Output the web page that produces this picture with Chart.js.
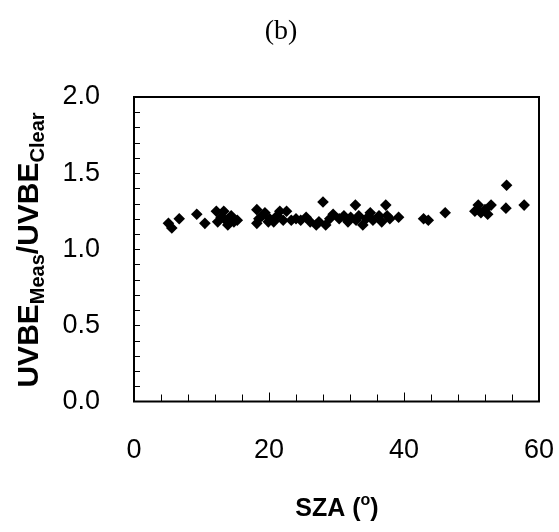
<!DOCTYPE html>
<html>
<head>
<meta charset="utf-8">
<script src="https://cdn.jsdelivr.net/npm/chart.js@4"></script>
<style>
  html, body { margin:0; padding:0; background:#fff; }
  #wrap { width:559px; height:532px; position:relative; }
</style>
</head>
<body>
<div id="wrap"><canvas id="c"></canvas></div>
<script>
'use strict';

// ---- Données (SZA en degrés, rapport UVBE mesuré / ciel clair) ----
const sza = [
  5.1, 5.6, 6.7, 9.3, 10.5, 12.2, 12.4, 12.9, 13.3, 13.6, 13.9, 14.4, 14.8, 15.3,
  18.2, 18.2, 18.5, 19.0, 19.4, 19.9, 20.1, 20.7, 21.2, 21.6, 22.1, 22.6, 23.3, 24.0,
  24.7, 25.5, 26.1, 27.0, 27.4, 28.0, 28.4, 29.0, 29.5, 30.4, 31.1, 31.7, 32.1, 32.8,
  32.9, 33.3, 33.9, 34.4, 35.0, 35.4, 36.3, 36.7, 37.3, 37.5, 37.9, 39.2,
  42.9, 43.6, 46.1, 50.5, 51.0, 51.4, 52.0, 52.4, 52.9, 55.1, 55.2, 57.8
];
const ratio = [
  1.17, 1.14, 1.20, 1.23, 1.17, 1.25, 1.18, 1.21, 1.25, 1.19, 1.16, 1.22, 1.18, 1.19,
  1.26, 1.17, 1.20, 1.22, 1.24, 1.18, 1.20, 1.18, 1.22, 1.25, 1.19, 1.25, 1.19, 1.20,
  1.19, 1.21, 1.18, 1.16, 1.18, 1.31, 1.16, 1.20, 1.23, 1.20, 1.22, 1.18, 1.21, 1.29,
  1.19, 1.22, 1.16, 1.20, 1.24, 1.19, 1.22, 1.18, 1.29, 1.22, 1.20, 1.21,
  1.20, 1.19, 1.24, 1.25, 1.29, 1.24, 1.26, 1.23, 1.29, 1.27, 1.42, 1.29
];
const xTicks = [0, 20, 40, 60];
const yTicks = [0.0, 0.5, 1.0, 1.5, 2.0];

const SANS = "'Liberation Sans', Arial, sans-serif";

// ---- Cadre + graduations intérieures + titres ----
const decor = {
  id: 'decor',
  afterDraw(chart) {
    const { ctx, chartArea: a, scales: { x, y } } = chart;
    ctx.save();
    ctx.strokeStyle = '#000';
    ctx.lineWidth = 1;
    // graduations x tous les 4
    for (let v = 4; v < 60; v += 4) {
      const px = Math.round(x.getPixelForValue(v)) + 0.5;
      const len = (v % 20 === 0) ? 9 : 7;
      ctx.beginPath(); ctx.moveTo(px, a.bottom); ctx.lineTo(px, a.bottom - len); ctx.stroke();
    }
    // graduations y tous les 0.1
    for (let i = 1; i < 20; i++) {
      const py = Math.round(y.getPixelForValue(i / 10)) + 0.5;
      ctx.beginPath(); ctx.moveTo(a.left, py); ctx.lineTo(a.left + 6, py); ctx.stroke();
    }
    // cadre
    ctx.lineWidth = 2;
    ctx.strokeRect(a.left, a.top, a.right - a.left, a.bottom - a.top);

    ctx.fillStyle = '#000';
    // (b)
    ctx.font = "28px 'Liberation Serif', serif";
    ctx.textAlign = 'center'; ctx.textBaseline = 'alphabetic';
    ctx.fillText('(b)', 281, 39);

    // SZA (o)
    ctx.textAlign = 'left';
    const t1 = 'SZA (', t2 = 'o', t3 = ')';
    ctx.font = 'bold 25px ' + SANS; const w1 = ctx.measureText(t1).width, w3 = ctx.measureText(t3).width;
    ctx.font = 'bold 16px ' + SANS; const w2 = ctx.measureText(t2).width;
    let sx = 337 - (w1 + w2 + w3) / 2;
    ctx.font = 'bold 25px ' + SANS; ctx.fillText(t1, sx, 516); sx += w1;
    ctx.font = 'bold 16px ' + SANS; ctx.fillText(t2, sx, 505); sx += w2;
    ctx.font = 'bold 25px ' + SANS; ctx.fillText(t3, sx, 516);

    // UVBE_Meas / UVBE_Clear (vertical)
    const parts = [
      ['UVBE', 30, 0], ['Meas', 20, 6], ['/UVBE', 30, 0], ['Clear', 20, 6]
    ];
    let tot = 0;
    parts.forEach(p => { ctx.font = 'bold ' + p[1] + 'px ' + SANS; p.push(ctx.measureText(p[0]).width); tot += p[3]; });
    ctx.translate(38, 250);
    ctx.rotate(-Math.PI / 2);
    let tx = -tot / 2;
    parts.forEach(p => {
      ctx.font = 'bold ' + p[1] + 'px ' + SANS;
      ctx.fillText(p[0], tx, p[2]);
      tx += p[3];
    });
    ctx.restore();
  }
};

new Chart(document.getElementById('c').getContext('2d'), {
  type: 'scatter',
  data: {
    datasets: [{
      data: sza.map((v, i) => ({ x: v, y: ratio[i] })),
      pointStyle: 'rectRot', pointRadius: 5.8, pointHoverRadius: 5.8,
      backgroundColor: '#000', borderColor: '#000', borderWidth: 0
    }]
  },
  options: {
    responsive: true, maintainAspectRatio: false, animation: false,
    layout: { padding: { left: 0, right: 20, top: 97, bottom: 0 } },
    plugins: { legend: { display: false }, tooltip: { enabled: false } },
    scales: {
      x: {
        type: 'linear', min: 0, max: 60,
        afterFit: s => { s.height = 130.5; s.paddingLeft = 0; s.paddingRight = 0; },
        afterBuildTicks: s => { s.ticks = xTicks.map(v => ({ value: v })); },
        grid: { display: false }, border: { display: false },
        ticks: { color: '#000', padding: 25, maxRotation: 0, font: { family: SANS, size: 27 },
                 callback: v => String(v) }
      },
      y: {
        type: 'linear', min: 0, max: 2,
        afterFit: s => { s.width = 134; s.paddingTop = 0; s.paddingBottom = 0; },
        afterBuildTicks: s => { s.ticks = yTicks.map(v => ({ value: v })); },
        grid: { display: false }, border: { display: false },
        ticks: { color: '#000', padding: 26, font: { family: SANS, size: 27 },
                 callback: v => Number(v).toFixed(1) }
      }
    }
  },
  plugins: [decor]
});
</script>
</body>
</html>
